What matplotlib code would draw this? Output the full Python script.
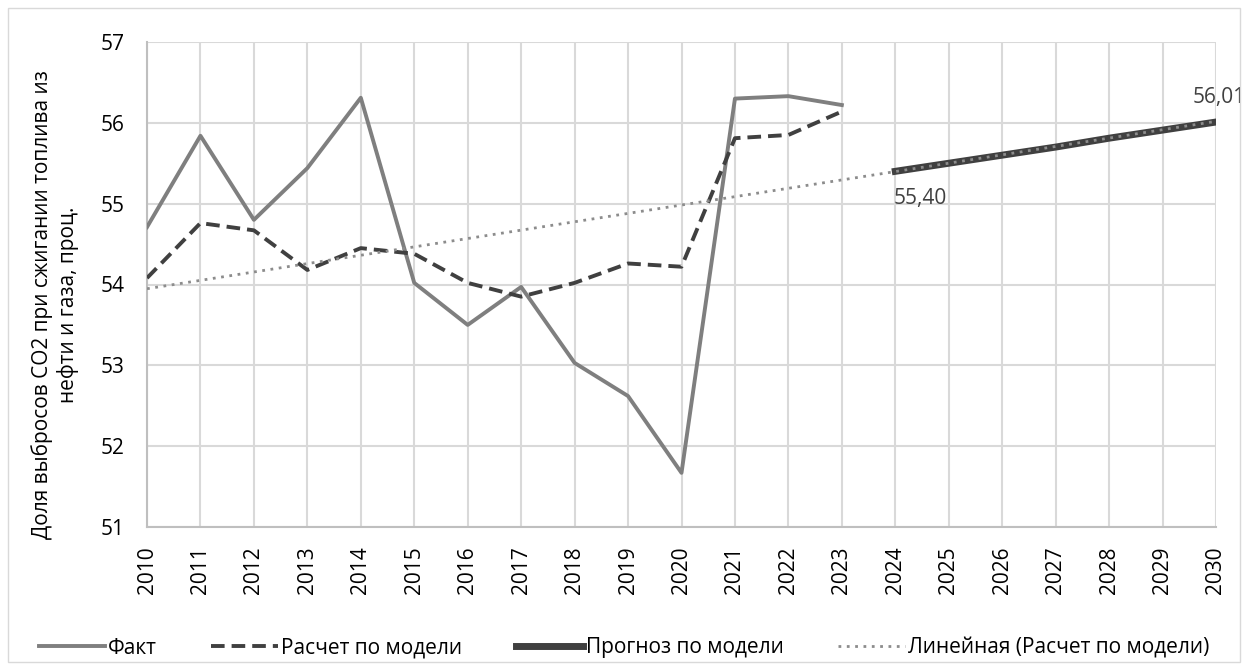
import numpy as np
import matplotlib
matplotlib.use("Agg")
import matplotlib.pyplot as plt
from matplotlib.patches import Rectangle
from matplotlib.transforms import offset_copy

plt.rcParams['font.family'] = ['Open Sans', 'DejaVu Sans']

years_hist = list(range(2010, 2024))
fact = [54.71, 55.84, 54.80, 55.44, 56.31, 54.02, 53.50, 53.97, 53.03, 52.62, 51.67, 56.30, 56.33, 56.22]
model = [54.08, 54.76, 54.67, 54.18, 54.45, 54.38, 54.02, 53.85, 54.02, 54.26, 54.22, 55.81, 55.85, 56.14]
years_fc = list(range(2024, 2031))
forecast = [55.40, 55.50, 55.60, 55.70, 55.81, 55.91, 56.01]
all_years = list(range(2010, 2031))
y_ticks = [51, 52, 53, 54, 55, 56, 57]

W, H = 1248, 670
fig = plt.figure(figsize=(W / 100, H / 100), dpi=100)
fig.patches.append(Rectangle((8 / W, 8 / H), 1 - 16 / W, 1 - 16 / H, transform=fig.transFigure,
                             fill=False, edgecolor='#d9d9d9', linewidth=1))
ax = fig.add_axes([147 / W, 1 - 527 / H, (1216 - 147) / W, (527 - 42) / H])

# linear trend of the model series
coef = np.polyfit(np.array(years_hist) - 2010, model, 1)
trend_years = np.array(all_years)
trend = np.polyval(coef, trend_years - 2010)

ax.plot(years_hist, fact, color='#7f7f7f', lw=2.8, label='Факт', zorder=3)
ax.plot(years_hist, model, color='#404040', lw=2.8, ls=(0, (3.5, 1.8)), label='Расчет по модели', zorder=4)
ax.plot(years_fc, forecast, color='#404040', lw=5, label='Прогноз по модели', zorder=5)
ax.plot(trend_years, trend, color='#8c8c8c', lw=2, ls=(0, (1, 2)),
        label='Линейная (Расчет по модели)', zorder=6)

t1 = offset_copy(ax.transData, fig=fig, x=25, y=-27, units='dots')
ax.text(years_fc[0], forecast[0], '55,40', transform=t1, ha='center', va='center',
        fontsize=15, color='#404040')
t2 = offset_copy(ax.transData, fig=fig, x=3, y=25, units='dots')
ax.text(years_fc[-1], forecast[-1], '56,01', transform=t2, ha='center', va='center',
        fontsize=15, color='#404040', clip_on=False)

ax.set_xlim(2010, 2030)
ax.set_ylim(51, 57)
ax.set_xticks(all_years)
ax.set_xticklabels([str(y) for y in all_years], rotation=90, fontsize=15)
ax.set_yticks(y_ticks)
ax.set_yticklabels([str(v) for v in y_ticks], fontsize=15)
ax.tick_params(axis='y', length=0, pad=16)
ax.tick_params(axis='x', length=0, pad=14)
ax.grid(True, color='#d9d9d9', lw=1.5)
ax.set_axisbelow(True)
for s in ['top', 'right']:
    ax.spines[s].set_visible(False)
for s in ['left', 'bottom']:
    ax.spines[s].set_color('#bfbfbf')
    ax.spines[s].set_linewidth(1.5)

fig.text(55 / W, 1 - 305 / H, 'Доля выбросов CO2 при сжигании топлива из\nнефти и газа, проц.',
         rotation=90, ha='center', va='center', fontsize=15, linespacing=1.25, multialignment='center')

handles, labels = ax.get_legend_handles_labels()
fig.legend(handles, labels, loc='center', bbox_to_anchor=(0.5, 1 - 648 / H), ncol=4, frameon=False,
           fontsize=15, handlelength=3.2, columnspacing=2.6, handletextpad=0.15)

fig.savefig('out.png', dpi=100)
